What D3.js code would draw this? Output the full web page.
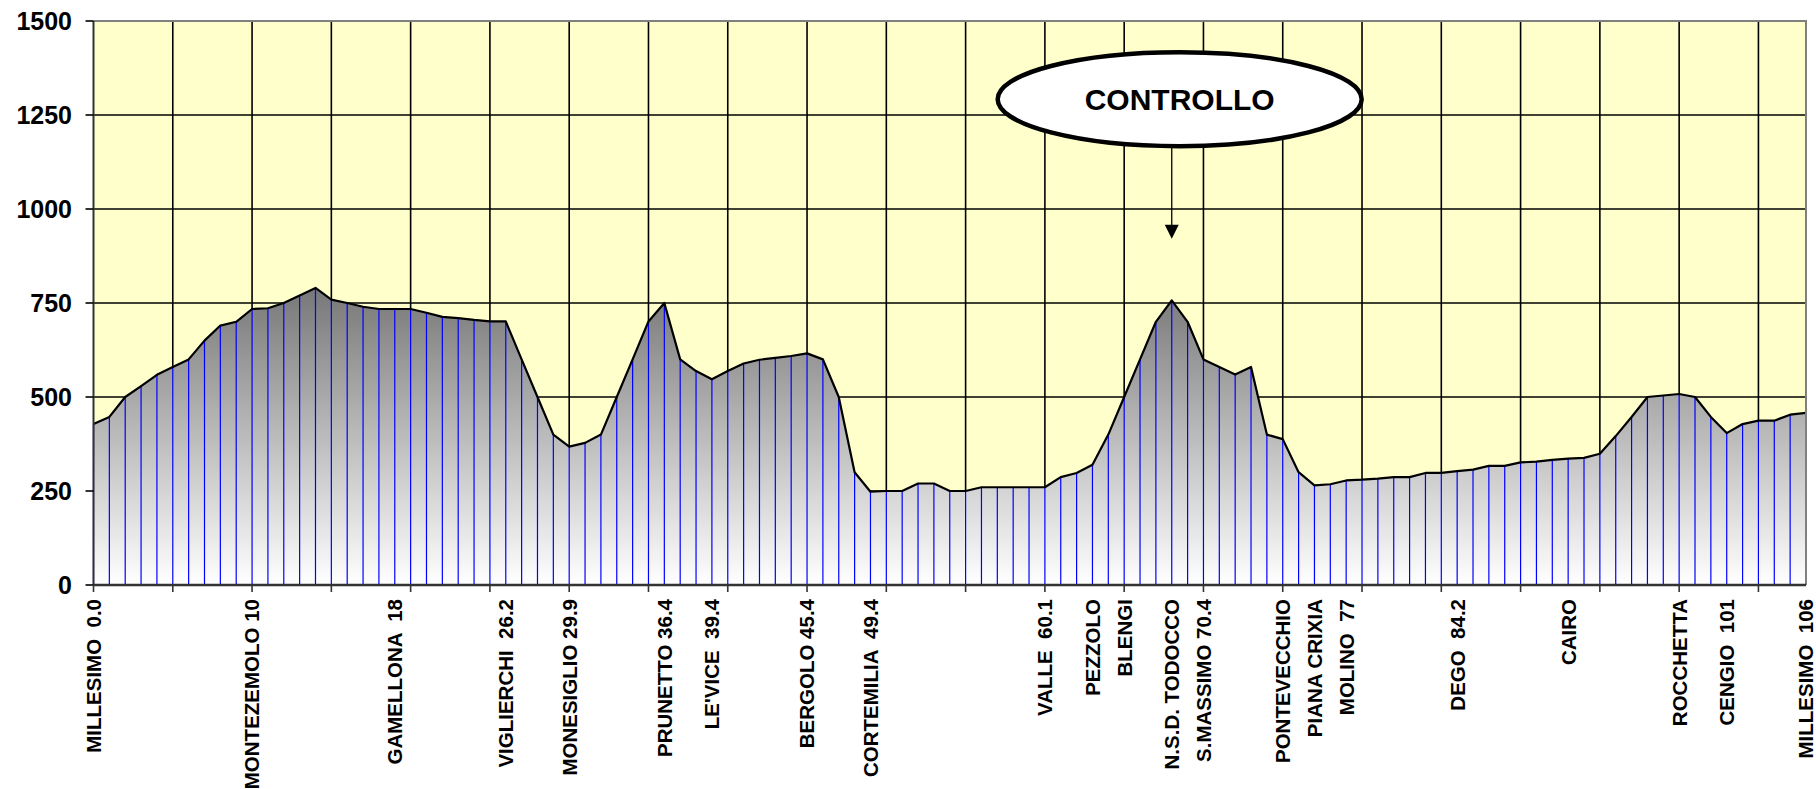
<!DOCTYPE html>
<html>
  <head>
    <meta charset="UTF-8">
    <title>Profilo altimetrico</title>
    <script src="https://d3js.org/d3.v7.min.js"></script>
    <style>
      body { margin: 0; background: #fff; }
      text { font-family: "Liberation Sans", Arial, sans-serif; font-weight: bold; fill: #000; }
    </style>
  </head>
  <body>
    <svg width="1816" height="789"></svg>
    <script>
      // altitudine (m) per ogni punto del percorso
      const elevations = [
        428, 447, 500, 529, 559, 580, 600, 650, 690, 700,
        734, 736, 750, 770, 790, 759, 750, 740, 734, 734,
        734, 724, 713, 710, 705, 701, 701, 600, 500, 400,
        368, 378, 400, 500, 600, 701, 750, 600, 569, 547,
        569, 589, 599, 604, 609, 616, 600, 500, 300, 248,
        250, 250, 270, 270, 250, 250, 260, 260, 260, 260,
        260, 287, 298, 320, 400, 500, 600, 700, 757, 700,
        600, 580, 560, 580, 400, 388, 300, 265, 268, 278,
        280, 283, 287, 287, 298, 298, 303, 307, 317, 317,
        326, 328, 333, 336, 338, 349, 396, 447, 500, 504,
        508, 500, 447, 404, 428, 437, 437, 453, 458
      ];

      // localita' e indice del punto a cui si riferiscono
      const stationNames = [
        "MILLESIMO  0.0", "MONTEZEMOLO 10", "GAMELLONA  18", "VIGLIERCHI  26.2",
        "MONESIGLIO 29.9", "PRUNETTO 36.4", "LE'VICE  39.4", "BERGOLO 45.4",
        "CORTEMILIA  49.4", "VALLE  60.1", "PEZZOLO", "BLENGI", "N.S.D. TODOCCO",
        "S.MASSIMO 70.4", "PONTEVECCHIO", "PIANA CRIXIA", "MOLINO  77", "DEGO  84.2",
        "CAIRO", "ROCCHETTA", "CENGIO  101", "MILLESIMO  106"
      ];
      const stationPoints = [0, 10, 19, 26, 30, 36, 39, 45, 49, 60, 63, 65, 68, 70, 75, 77, 79, 86, 93, 100, 103, 108];

      const yTicks = [0, 250, 500, 750, 1000, 1250, 1500];
      const gridStep = 5;

      // fumetto "CONTROLLO": punto indicato e quote (in m) di ellisse e freccia
      const callout = { label: "CONTROLLO", point: 68, centerShift: 0.5, centerValue: 1292, arrowFrom: 1165, arrowTo: 921 };

      const svg = d3.select("svg");
      const plotLeft = 93.5, plotRight = 1806, plotTop = 21, plotBottom = 585;

      const x = d3.scaleLinear().domain([0, elevations.length - 1]).range([plotLeft, plotRight]);
      const y = d3.scaleLinear().domain([0, 1500]).range([plotBottom, plotTop]);

      // sfondo area del grafico
      svg.append("rect")
        .attr("x", plotLeft).attr("y", plotTop)
        .attr("width", plotRight - plotLeft).attr("height", plotBottom - plotTop)
        .attr("fill", "#ffffcc");

      // griglia
      const grid = svg.append("g").attr("stroke", "#000").attr("stroke-width", 1.6);
      grid.selectAll("line.h")
        .data(yTicks.filter(d => d > 0 && d < 1500))
        .join("line")
        .attr("class", "h")
        .attr("x1", plotLeft).attr("x2", plotRight)
        .attr("y1", d => y(d)).attr("y2", d => y(d));
      const gridIdx = d3.range(gridStep, elevations.length - 1, gridStep);
      grid.selectAll("line.v")
        .data(gridIdx)
        .join("line")
        .attr("class", "v")
        .attr("x1", d => x(d)).attr("x2", d => x(d))
        .attr("y1", plotTop).attr("y2", plotBottom);

      // riempimento sfumato
      const grad = svg.append("defs").append("linearGradient")
        .attr("id", "fade")
        .attr("gradientUnits", "userSpaceOnUse")
        .attr("x1", 0).attr("x2", 0)
        .attr("y1", y(d3.max(elevations))).attr("y2", y(0));
      grad.append("stop").attr("offset", 0).attr("stop-color", "#777777");
      grad.append("stop").attr("offset", 1).attr("stop-color", "#ffffff");

      const area = d3.area()
        .x((d, i) => x(i))
        .y0(y(0))
        .y1(d => y(d));
      svg.append("path")
        .datum(elevations)
        .attr("d", area)
        .attr("fill", "url(#fade)");

      // linee di proiezione blu
      svg.append("g")
        .attr("stroke", "#0000ff")
        .attr("stroke-width", 1.2)
        .selectAll("line")
        .data(elevations)
        .join("line")
        .attr("x1", (d, i) => x(i)).attr("x2", (d, i) => x(i))
        .attr("y1", d => y(d)).attr("y2", y(0));

      const line = d3.line()
        .x((d, i) => x(i))
        .y(d => y(d));
      svg.append("path")
        .datum(elevations)
        .attr("d", line)
        .attr("fill", "none")
        .attr("stroke", "#000")
        .attr("stroke-width", 2.2)
        .attr("stroke-linejoin", "round");

      // bordo superiore e destro
      svg.append("path")
        .attr("d", `M${plotLeft},${plotTop}H${plotRight}V${plotBottom}`)
        .attr("fill", "none")
        .attr("stroke", "#808080")
        .attr("stroke-width", 2);

      // asse y
      const yAxis = svg.append("g");
      yAxis.append("line")
        .attr("x1", plotLeft).attr("x2", plotLeft)
        .attr("y1", plotTop).attr("y2", plotBottom)
        .attr("stroke", "#333").attr("stroke-width", 2);
      yAxis.selectAll("line.t")
        .data(yTicks)
        .join("line")
        .attr("class", "t")
        .attr("x1", plotLeft - 8).attr("x2", plotLeft)
        .attr("y1", d => y(d)).attr("y2", d => y(d))
        .attr("stroke", "#000").attr("stroke-width", 1.6);
      yAxis.selectAll("text")
        .data(yTicks)
        .join("text")
        .attr("x", 72)
        .attr("y", d => y(d))
        .attr("dy", "0.36em")
        .attr("text-anchor", "end")
        .attr("font-size", 25)
        .text(d => d);

      // asse x
      const xAxis = svg.append("g");
      xAxis.append("line")
        .attr("x1", plotLeft).attr("x2", plotRight)
        .attr("y1", plotBottom).attr("y2", plotBottom)
        .attr("stroke", "#333").attr("stroke-width", 2.4);
      xAxis.selectAll("line.t")
        .data(d3.range(0, elevations.length, gridStep))
        .join("line")
        .attr("class", "t")
        .attr("x1", d => x(d)).attr("x2", d => x(d))
        .attr("y1", plotBottom).attr("y2", plotBottom + 7)
        .attr("stroke", "#333").attr("stroke-width", 1.6);
      xAxis.selectAll("text")
        .data(stationNames)
        .join("text")
        .attr("transform", (d, i) => `translate(${x(stationPoints[i])},599) rotate(-90)`)
        .attr("dy", "0.36em")
        .attr("text-anchor", "end")
        .attr("font-size", 20.5)
        .style("white-space", "pre")
        .text(d => d);

      // fumetto di controllo
      const cx = x(callout.point + callout.centerShift);
      const ax = x(callout.point);
      const note = svg.append("g");
      note.append("line")
        .attr("x1", ax).attr("x2", ax)
        .attr("y1", y(callout.arrowFrom)).attr("y2", y(callout.arrowTo) - 12)
        .attr("stroke", "#000").attr("stroke-width", 1.3);
      note.append("path")
        .attr("d", `M${ax - 7},${y(callout.arrowTo) - 14}L${ax + 7},${y(callout.arrowTo) - 14}L${ax},${y(callout.arrowTo)}Z`)
        .attr("fill", "#000");
      note.append("ellipse")
        .attr("cx", cx).attr("cy", y(callout.centerValue))
        .attr("rx", 182).attr("ry", 47)
        .attr("fill", "#fff")
        .attr("stroke", "#000").attr("stroke-width", 4.5);
      note.append("text")
        .attr("x", cx).attr("y", y(callout.centerValue))
        .attr("dy", "0.36em")
        .attr("text-anchor", "middle")
        .attr("font-size", 30)
        .text(callout.label);
    </script>
  </body>
</html>
